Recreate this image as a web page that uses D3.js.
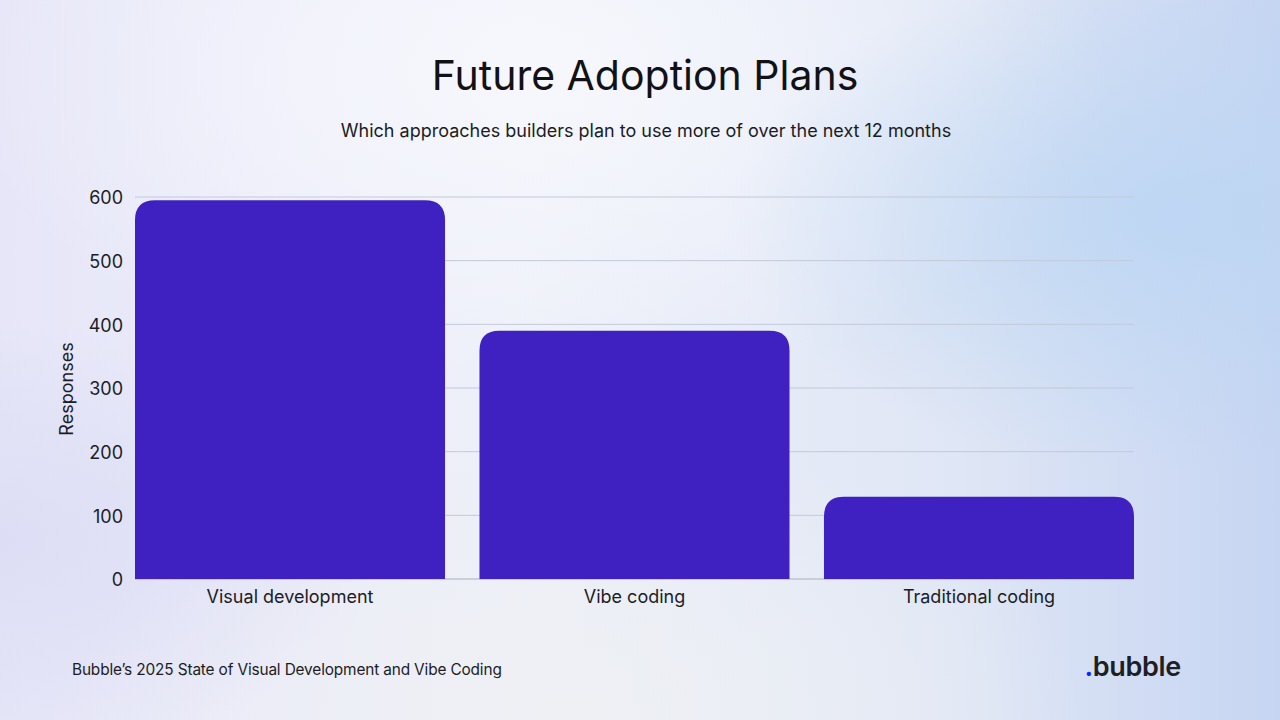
<!DOCTYPE html>
<html><head><meta charset="utf-8">
<script src="https://cdn.jsdelivr.net/npm/d3@7"></script>
<style>
html,body{margin:0;padding:0;width:1280px;height:720px;overflow:hidden;}
svg{display:block;font-family:Inter,"Noto Sans",sans-serif;}
</style></head>
<body><svg id="c" width="1280" height="720"></svg>
<script>
const categories = ["Visual development", "Vibe coding", "Traditional coding"];
const responses = [595, 390, 129];
const yTicks = [0, 100, 200, 300, 400, 500, 600];
const title = "Future Adoption Plans";
const subtitle = "Which approaches builders plan to use more of over the next 12 months";
const yLabel = "Responses";
const footer = "Bubble\u2019s 2025 State of Visual Development and Vibe Coding";

(function () {
const svg = d3.select("#c");
const defs = svg.append("defs");

// background
const lg = defs.append("linearGradient").attr("id","bg").attr("x1","0").attr("y1","0").attr("x2","1").attr("y2","0");
lg.append("stop").attr("offset","0").attr("stop-color","#e6e6f8");
lg.append("stop").attr("offset","0.4").attr("stop-color","#eef0f9");
lg.append("stop").attr("offset","0.75").attr("stop-color","#dfe6f5");
lg.append("stop").attr("offset","1").attr("stop-color","#c6d5f2");
svg.append("rect").attr("width",1280).attr("height",720).attr("fill","url(#bg)");

const rg1 = defs.append("radialGradient").attr("id","rg1").attr("cx","0.42").attr("cy","0.1").attr("r","0.45");
rg1.append("stop").attr("offset","0").attr("stop-color","#f7f8fd").attr("stop-opacity",0.95);
rg1.append("stop").attr("offset","1").attr("stop-color","#f7f8fd").attr("stop-opacity",0);
svg.append("rect").attr("width",1280).attr("height",720).attr("fill","url(#rg1)");

const rg2 = defs.append("radialGradient").attr("id","rg2").attr("cx","0.92").attr("cy","0.3").attr("r","0.35");
rg2.append("stop").attr("offset","0").attr("stop-color","#bcd6f3").attr("stop-opacity",0.9);
rg2.append("stop").attr("offset","1").attr("stop-color","#bcd6f3").attr("stop-opacity",0);
svg.append("rect").attr("width",1280).attr("height",720).attr("fill","url(#rg2)");

const rg3 = defs.append("radialGradient").attr("id","rg3").attr("cx","0.45").attr("cy","1").attr("r","0.4");
rg3.append("stop").attr("offset","0").attr("stop-color","#eef0f3").attr("stop-opacity",0.9);
rg3.append("stop").attr("offset","1").attr("stop-color","#eef0f3").attr("stop-opacity",0);
svg.append("rect").attr("width",1280).attr("height",720).attr("fill","url(#rg3)");

const rg4 = defs.append("radialGradient").attr("id","rg4").attr("cx","0").attr("cy","0.75").attr("r","0.3");
rg4.append("stop").attr("offset","0").attr("stop-color","#dcdcf5").attr("stop-opacity",0.9);
rg4.append("stop").attr("offset","1").attr("stop-color","#dcdcf5").attr("stop-opacity",0);
svg.append("rect").attr("width",1280).attr("height",720).attr("fill","url(#rg4)");

const pL = 135, pR = 1134, pT = 197, pB = 579;
const x = d3.scaleBand().domain(categories).range([pL, pR]).paddingInner(0.1).paddingOuter(0);
const y = d3.scaleLinear().domain([0, 600]).range([pB, pT]);

// grid
svg.append("g").selectAll("line").data(yTicks.filter(d => d > 0)).join("line")
  .attr("x1", pL).attr("x2", pR)
  .attr("y1", d => y(d)).attr("y2", d => y(d))
  .attr("stroke", "#c3c9d9").attr("stroke-width", 1);

// baseline
svg.append("line").attr("x1", pL).attr("x2", pR).attr("y1", y(0)).attr("y2", y(0))
  .attr("stroke", "#a9afbf").attr("stroke-width", 1);

// bars with rounded top corners
const r = 20;
function barPath(x0, w, yt, yb) {
  const rr = Math.min(r, (yb - yt), w / 2);
  return `M${x0},${yb}V${yt + rr}Q${x0},${yt} ${x0 + rr},${yt}H${x0 + w - rr}Q${x0 + w},${yt} ${x0 + w},${yt + rr}V${yb}Z`;
}
svg.append("g").selectAll("path").data(categories).join("path")
  .attr("d", (d, i) => barPath(x(d), x.bandwidth(), y(responses[i]), y(0)))
  .attr("fill", "#3f20c0");

// y axis
const yAxis = svg.append("g").attr("transform", `translate(${pL},1)`)
  .call(d3.axisLeft(y).tickValues(yTicks).tickSize(0).tickPadding(12));
yAxis.select(".domain").remove();
yAxis.selectAll("text").attr("font-size", 18).attr("fill", "#1c1c24").attr("font-family", "Inter,sans-serif");

// x axis
const xAxis = svg.append("g").attr("transform", `translate(0,${pB})`)
  .call(d3.axisBottom(x).tickSize(0).tickPadding(11));
xAxis.select(".domain").remove();
xAxis.selectAll("text").attr("font-size", 18).attr("fill", "#1c1c24").attr("font-family", "Inter,sans-serif");

// y label
svg.append("text").attr("transform", "translate(73,389) rotate(-90)")
  .attr("text-anchor", "middle").attr("font-size", 18).attr("fill", "#1c1c24").text(yLabel);

// titles
svg.append("text").attr("x", 645).attr("y", 90).attr("text-anchor", "middle")
  .attr("font-size", 41).attr("fill", "#111116").text(title);
svg.append("text").attr("x", 646).attr("y", 137).attr("text-anchor", "middle")
  .attr("font-size", 18).attr("fill", "#1c1c24").text(subtitle);

// footer
svg.append("text").attr("x", 72).attr("y", 675).attr("font-size", 15.4).attr("letter-spacing", -0.15)
  .attr("fill", "#1c1c24").text(footer);

// logo
const logo = svg.append("text").attr("x", 1181).attr("y", 676).attr("text-anchor", "end")
  .attr("font-size", 27).attr("font-weight", 600).attr("fill", "#1e1e26").attr("letter-spacing", -0.3);
logo.append("tspan").attr("fill", "#1024ff").text(".");
logo.append("tspan").text("bubble");
})();
</script></body></html>
